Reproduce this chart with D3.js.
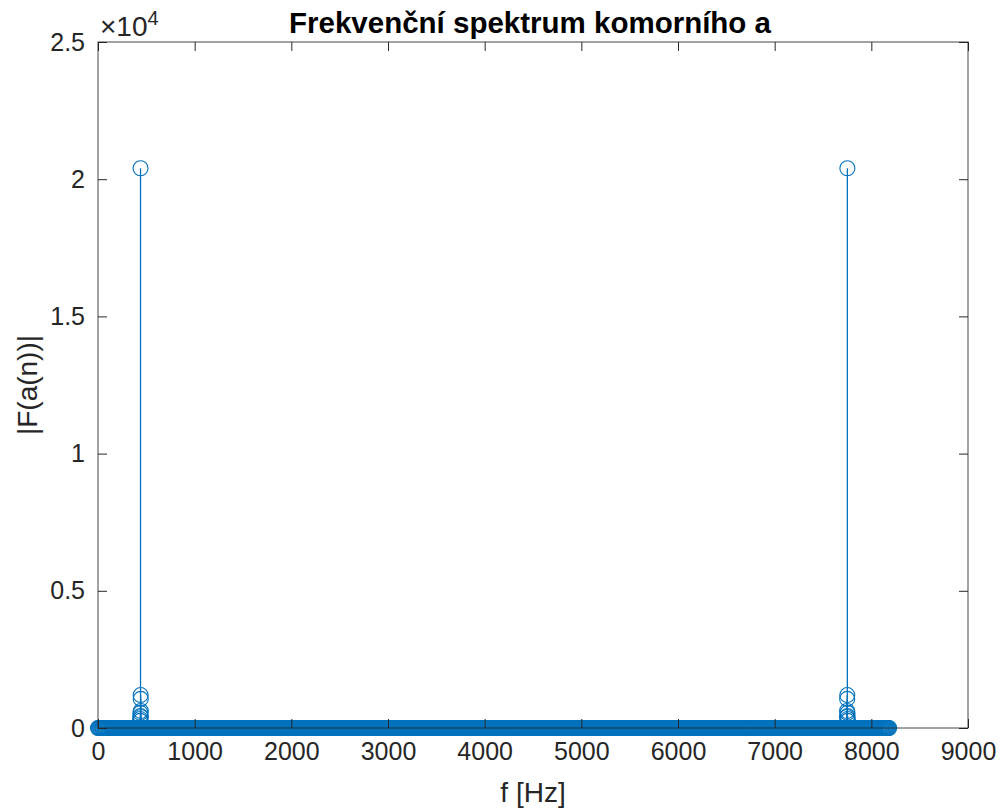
<!DOCTYPE html>
<html>
<head>
<meta charset="utf-8">
<script src="https://cdn.jsdelivr.net/npm/d3@7"></script>
<style>
  html, body { margin: 0; padding: 0; background: #fff; }
  svg { display: block; font-family: "Liberation Sans", Arial, Helvetica, sans-serif; }
</style>
</head>
<body>
<div id="chart"></div>
<script>
// Stem plot of |FFT| of the concert pitch a (440 Hz), fs = 8192 Hz

// FFT bin grid (Hz) - the floor of near-zero bins, drawn every 8 Hz
const binStart = 0;
const binEnd = 8184;
const binStep = 8;

// bins that stick out above the floor (Hz, magnitude)
const peakFreqs = [436, 437, 438, 439, 440, 441, 442, 443, 444,
                   7748, 7749, 7750, 7751, 7752, 7753, 7754, 7755, 7756];
const peakMags = [260, 330, 440, 550, 20400, 1200, 1060, 620, 400,
                  400, 620, 1060, 1200, 20400, 550, 440, 330, 260];

const xTicks = [0, 1000, 2000, 3000, 4000, 5000, 6000, 7000, 8000, 9000];
const yTicks = [0, 5000, 10000, 15000, 20000, 25000];
const yTickLabels = ['0', '0.5', '1', '1.5', '2', '2.5'];

const W = 1003, H = 811;
const margin = { top: 42, right: 35, bottom: 83, left: 98 };
const iw = W - margin.left - margin.right;
const ih = H - margin.top - margin.bottom;
const blue = '#0072BD';
const axisCol = '#262626';

const floorBins = d3.range(binStart, binEnd + 1, binStep).map(f => ({ f, m: 0 }));
const peaks = peakFreqs.map((f, i) => ({ f, m: peakMags[i] }));
// small values first so the tall stems sit on top
const data = floorBins.concat(peaks.sort((a, b) => a.m - b.m));

const svg = d3.select('#chart').append('svg')
  .attr('width', W)
  .attr('height', H);

const x = d3.scaleLinear().domain([0, 9000]).range([0, iw]);
const y = d3.scaleLinear().domain([0, 25000]).range([ih, 0]);

const g = svg.append('g').attr('transform', `translate(${margin.left},${margin.top})`);

// Stems
g.append('g').selectAll('line')
  .data(data)
  .join('line')
  .attr('x1', d => x(d.f))
  .attr('x2', d => x(d.f))
  .attr('y1', y(0))
  .attr('y2', d => y(d.m))
  .attr('stroke', blue)
  .attr('stroke-width', 1.3);

// Markers
g.append('g').selectAll('circle')
  .data(data)
  .join('circle')
  .attr('cx', d => x(d.f))
  .attr('cy', d => y(d.m))
  .attr('r', 7.5)
  .attr('fill', 'none')
  .attr('stroke', blue)
  .attr('stroke-width', 1.1);

// Axes (ticks pointing inwards, box on)
const styleAxis = sel => {
  sel.selectAll('.domain').remove();
  sel.selectAll('.tick line').attr('stroke', axisCol).attr('stroke-width', 1);
  sel.selectAll('.tick text').attr('fill', axisCol).attr('font-size', 25);
};

g.append('g')
  .attr('transform', `translate(0,${ih})`)
  .call(d3.axisBottom(x).tickValues(xTicks).tickFormat(d3.format('d'))
    .tickSizeInner(-9).tickSizeOuter(0).tickPadding(14))
  .call(styleAxis);

g.append('g')
  .call(d3.axisTop(x).tickValues(xTicks).tickFormat('')
    .tickSizeInner(-9).tickSizeOuter(0))
  .call(styleAxis);

g.append('g')
  .call(d3.axisLeft(y).tickValues(yTicks).tickFormat((d, i) => yTickLabels[i])
    .tickSizeInner(-9).tickSizeOuter(0).tickPadding(13))
  .call(styleAxis);

g.append('g')
  .attr('transform', `translate(${iw},0)`)
  .call(d3.axisRight(y).tickValues(yTicks).tickFormat('')
    .tickSizeInner(-9).tickSizeOuter(0))
  .call(styleAxis);

g.append('rect')
  .attr('width', iw)
  .attr('height', ih)
  .attr('fill', 'none')
  .attr('stroke', axisCol)
  .attr('stroke-opacity', 0.85)
  .attr('stroke-width', 1);

// Exponent label
const expo = svg.append('text')
  .attr('x', margin.left + 2)
  .attr('y', 36)
  .attr('font-size', 28)
  .attr('fill', axisCol);
expo.append('tspan').text('×10');
expo.append('tspan').attr('font-size', 20).attr('dy', -11).text('4');

// Title
svg.append('text')
  .attr('x', margin.left + iw / 2 - 3)
  .attr('y', 33)
  .attr('text-anchor', 'middle')
  .attr('font-size', 29.5)
  .attr('font-weight', 'bold')
  .attr('fill', '#000')
  .text('Frekvenční spektrum komorního a');

// Axis labels
svg.append('text')
  .attr('x', margin.left + iw / 2)
  .attr('y', 802)
  .attr('text-anchor', 'middle')
  .attr('font-size', 28)
  .attr('fill', axisCol)
  .text('f [Hz]');

svg.append('text')
  .attr('transform', `translate(37,${margin.top + ih / 2}) rotate(-90)`)
  .attr('text-anchor', 'middle')
  .attr('font-size', 28)
  .attr('fill', axisCol)
  .text('|F(a(n))|');
</script>
</body>
</html>
